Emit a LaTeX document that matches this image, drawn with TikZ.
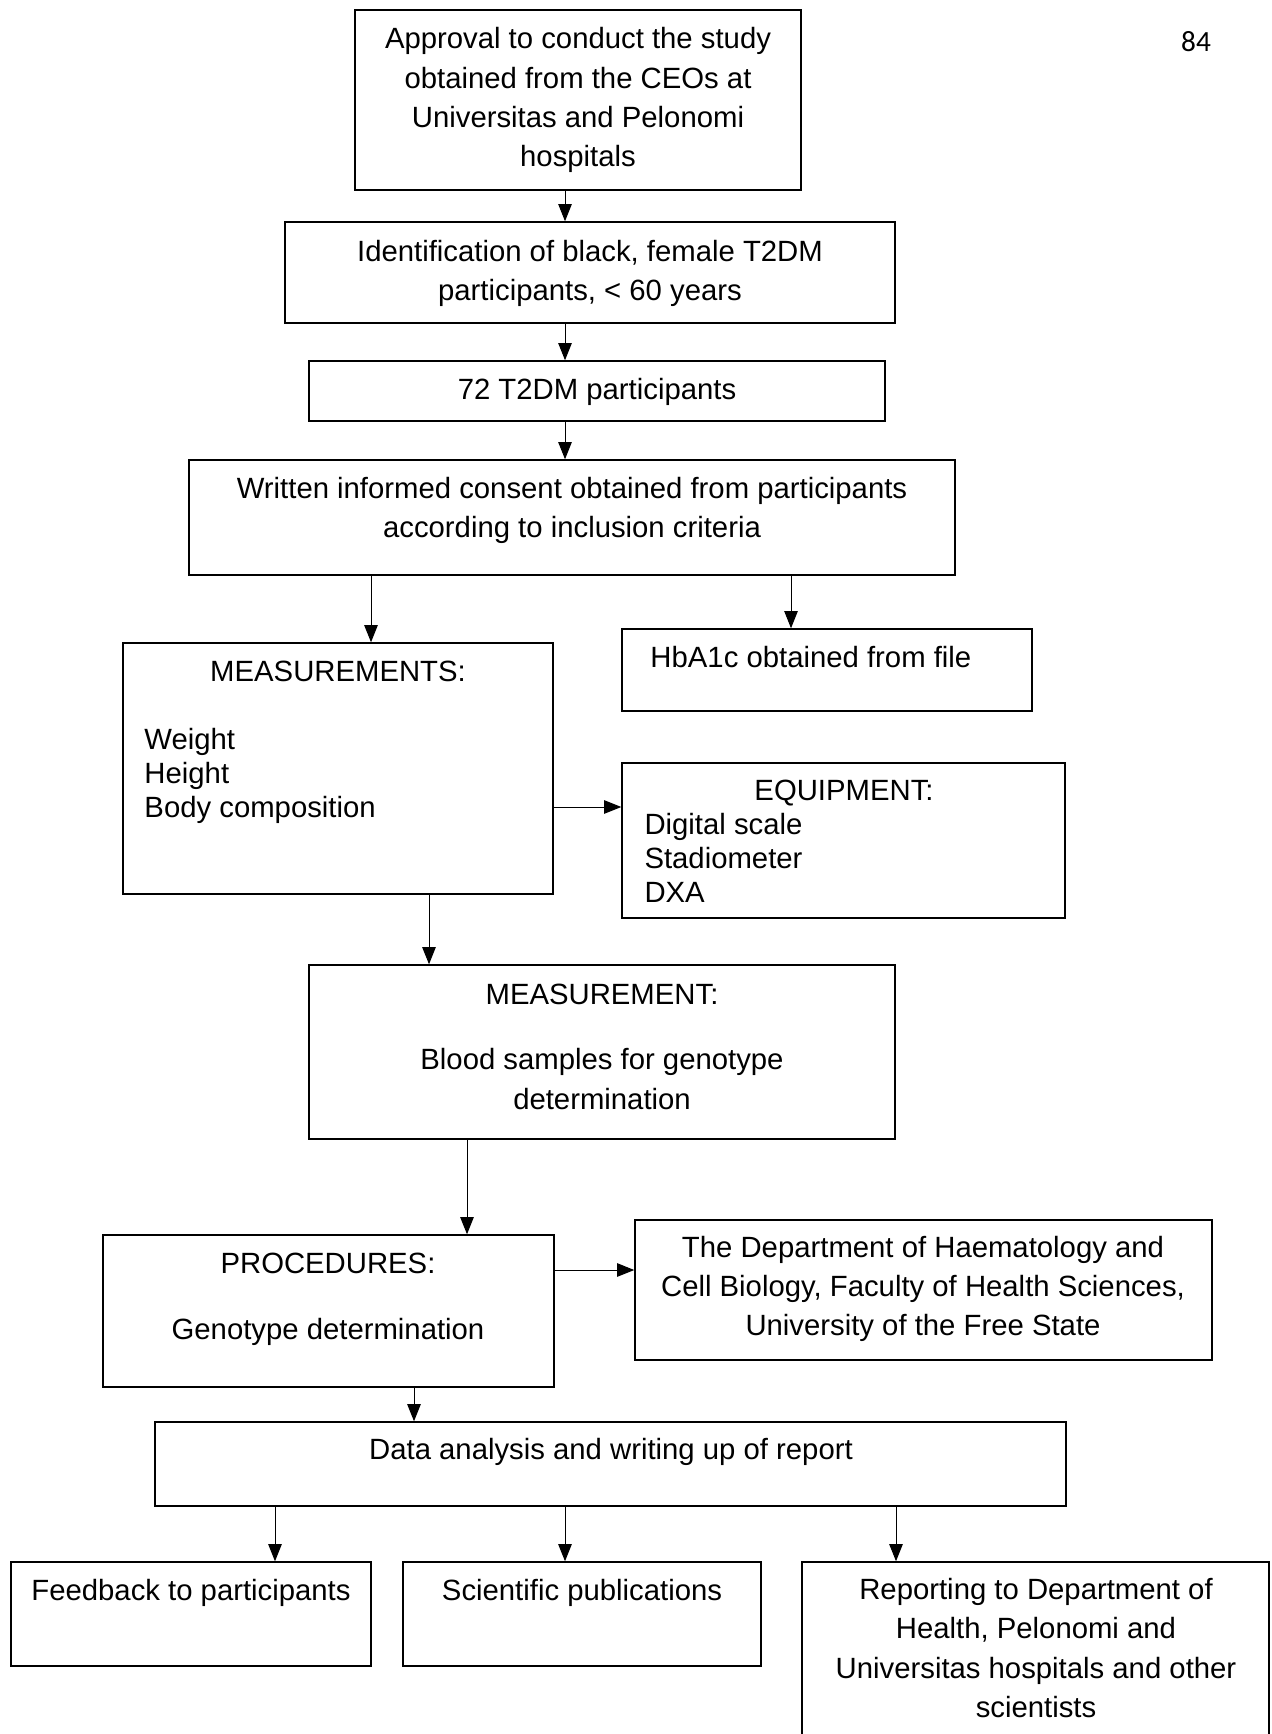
\documentclass[tikz,border=0pt]{standalone}
\usepackage{fontspec}
\setmainfont{Liberation Sans}
\newfontfamily\pagefont{Carlito}
\usetikzlibrary{arrows.meta,fit}

\tikzset{
  box/.style={draw, line width=0.6pt, inner sep=0pt, fit={#1}},
  txt/.style={inner sep=0pt, align=center, font=\fontsize{12}{16}\selectfont},
  lst/.style={inner sep=0pt, align=left, anchor=west, font=\fontsize{12}{13.8}\selectfont},
  arr/.style={line width=0.4pt, -{Triangle[length=7pt, width=5.5pt]}}
}

\begin{document}
\begin{tikzpicture}[x=0.4096pt, y=-0.4096pt]
    \useasboundingbox (0,0) rectangle (1271,1734);
    \node[font=\pagefont\fontsize{12}{14}\selectfont] (page) at (1196,42) {84};

    \node[box={(355,10) (801,190)}] (approval) {};
    \node[txt] (approval-t) at (578,100) {Approval to conduct the study\\obtained from the CEOs at\\Universitas and Pelonomi\\hospitals};
    \node[box={(285,222) (895,323)}] (ident) {};
    \node[txt] (ident-t) at (590,273) {Identification of black, female T2DM\\participants, < 60 years};
    \node[box={(309,361) (885,421)}] (n72) {};
    \node[txt] (n72-t) at (597,392) {72 T2DM participants};
    \node[box={(189,460) (955,575)}] (consent) {};
    \node[txt] (consent-t) at (572,510) {Written informed consent obtained from participants\\according to inclusion criteria};

    \node[box={(123,643) (553,894)}] (meas) {};
    \node[txt] (meas-t) at (338,671) {MEASUREMENTS:};
    \node[lst] (meas-l) at (144,776) {Weight\\Height\\Body composition};
    \node[box={(622,629) (1032,711)}] (hba) {};
    \node[lst] (hba-t) at (650,657) {HbA1c obtained from file};
    \node[box={(622,763) (1065,918)}] (equip) {};
    \node[txt] (equip-t) at (844,793) {EQUIPMENT:};
    \node[lst] (equip-l) at (644,858) {Digital scale\\Stadiometer\\DXA};

    \node[box={(309,965) (895,1139)}] (blood) {};
    \node[txt] (blood-t) at (602,994) {MEASUREMENT:};
    \node[txt] (blood-l) at (602,1079) {Blood samples for genotype\\determination};
    \node[box={(103,1235) (554,1387)}] (proc) {};
    \node[txt] (proc-t) at (328,1263) {PROCEDURES:};
    \node[txt] (proc-l) at (328,1332) {Genotype determination};
    \node[box={(635,1220) (1212,1360)}] (dept) {};
    \node[txt] (dept-t) at (923,1289) {The Department of Haematology and\\Cell Biology, Faculty of Health Sciences,\\University of the Free State};

    \node[box={(155,1422) (1066,1506)}] (data) {};
    \node[txt] (data-t) at (611,1452) {Data analysis and writing up of report};
    \node[box={(11,1562) (371,1666)}] (feed) {};
    \node[txt] (feed-t) at (191,1593) {Feedback to participants};
    \node[box={(403,1562) (761,1666)}] (sci) {};
    \node[txt] (sci-t) at (582,1593) {Scientific publications};
    \node[box={(802,1562) (1269,1760)}] (report) {};
    \node[txt] (report-t) at (1036,1648) {Reporting to Department of\\Health, Pelonomi and\\Universitas hospitals and other\\scientists};

    \path[arr]
        (approval.south -| 565,0) edge (ident.north -| 565,0)
        (ident.south -| 565,0) edge (n72.north -| 565,0)
        (n72.south -| 565,0) edge (consent.north -| 565,0)
        (consent.south -| 371,0) edge (meas.north -| 371,0)
        (consent.south -| 791,0) edge (hba.north -| 791,0)
        (meas.east |- 0,807) edge (equip.west |- 0,807)
        (meas.south -| 429,0) edge (blood.north -| 429,0)
        (blood.south -| 467,0) edge (proc.north -| 467,0)
        (proc.east |- 0,1270) edge (dept.west |- 0,1270)
        (proc.south -| 414,0) edge (data.north -| 414,0)
        (data.south -| 275,0) edge (feed.north -| 275,0)
        (data.south -| 565,0) edge (sci.north -| 565,0)
        (data.south -| 896,0) edge (report.north -| 896,0)
        ;
\end{tikzpicture}
\end{document}
